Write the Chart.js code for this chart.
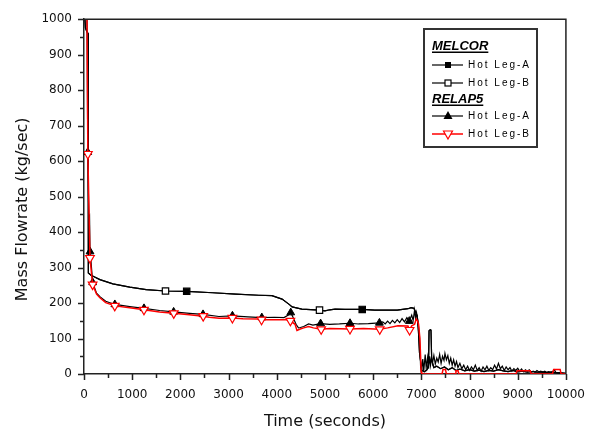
<!DOCTYPE html>
<html><head><meta charset="utf-8">
<script src="https://cdn.jsdelivr.net/npm/chart.js@4.4.0/dist/chart.umd.min.js"></script>
<style>html,body{margin:0;padding:0;background:#fff;}</style>
</head><body>
<canvas id="c" width="599" height="432"></canvas>
<script>
// ---- data (time s, mass flowrate kg/s) ----
const melcorA = [[0,1050],[30,975],[60,965],[85,960],[90,285],[150,278],[200,275],[330,266],[600,254],[950,245],[1290,238],[1691,234],[2131,233],[2670,229],[3150,225],[3630,222],[3900,221],[4110,211],[4250,197],[4320,189],[4520,183],[4887,180],[5000,178],[5100,181],[5210,183],[5416,182],[5773,182],[6034,180],[6500,180],[6722,184],[6790,187],[6845,185],[6875,176],[6914,164],[6940,120],[6962,60],[7010,10],[7060,6],[7120,12],[7150,30],[7160,122],[7185,125],[7200,124],[7215,40],[7260,18],[7320,22],[7400,15],[7480,20],[7560,12],[7640,18],[7720,10],[7800,14],[7900,9],[8000,12],[8100,8],[8200,11],[8300,7],[8400,10],[8500,8],[8600,12],[8700,9],[8800,7],[8900,10],[9000,6],[9100,8],[9200,5],[9300,7],[9400,5],[9500,6],[9600,4],[9700,5],[9800,4],[9900,3],[10000,2]];
const melcorB = [[0,1050],[30,975],[60,965],[85,960],[90,285],[150,278],[200,275],[330,266],[600,254],[950,245],[1290,238],[1691,234],[2131,233],[2670,229],[3150,225],[3630,222],[3900,221],[4110,211],[4250,197],[4320,189],[4520,183],[4887,180],[5000,178],[5100,181],[5210,183],[5416,182],[5773,182],[6034,180],[6500,180],[6722,184],[6790,187],[6845,185],[6875,176],[6914,164],[6940,120],[6962,60],[7010,10],[7060,6],[7120,12],[7150,30],[7160,122],[7185,125],[7200,124],[7215,40],[7260,18],[7320,22],[7400,15],[7480,20],[7560,12],[7640,18],[7720,10],[7800,14],[7900,9],[8000,12],[8100,8],[8200,11],[8300,7],[8400,10],[8500,8],[8600,12],[8700,9],[8800,7],[8900,10],[9000,6],[9100,8],[9200,5],[9300,7],[9400,5],[9500,6],[9600,4],[9700,5],[9800,4],[9900,3],[10000,2]];
const relapA = [[0,1100],[60,1050],[78,625],[100,440],[115,445],[125,345],[135,335],[180,258],[260,228],[330,218],[450,205],[640,196],[950,190],[1245,185],[1570,179],[1860,175],[2190,171],[2470,168],[2800,162],[3080,164],[3400,161],[3690,159],[3950,160],[4150,159],[4240,166],[4290,173],[4330,162],[4400,140],[4450,130],[4490,131],[4560,134],[4660,141],[4750,138],[4910,142],[5100,140],[5300,141],[5520,143],[5700,141],[5900,142],[6130,144],[6200,147],[6250,141],[6300,149],[6350,142],[6400,151],[6450,144],[6500,153],[6550,145],[6600,156],[6650,147],[6700,159],[6750,149],[6800,166],[6830,151],[6860,180],[6880,156],[6900,173],[6930,150],[6960,110],[6985,20],[7000,4],[7030,42],[7050,8],[7080,55],[7100,18],[7130,47],[7150,15],[7170,50],[7190,25],[7210,48],[7230,30],[7260,52],[7290,28],[7320,45],[7350,34],[7380,55],[7410,30],[7440,50],[7470,38],[7490,58],[7520,40],[7550,52],[7580,30],[7610,45],[7640,25],[7670,40],[7700,22],[7730,35],[7760,18],[7800,30],[7840,15],[7880,25],[7920,12],[7960,22],[8000,10],[8040,20],[8080,12],[8120,25],[8160,10],[8200,18],[8240,8],[8280,20],[8320,12],[8360,22],[8400,10],[8440,18],[8480,12],[8520,25],[8560,14],[8600,30],[8640,15],[8680,22],[8720,10],[8760,20],[8800,12],[8840,18],[8880,8],[8920,15],[8960,10],[9000,16],[9040,8],[9080,14],[9120,6],[9160,12],[9200,8],[9240,12],[9280,5],[9320,8],[9360,5],[9400,10],[9440,6],[9480,8],[9520,5],[9560,8],[9600,5],[9640,7],[9680,5],[9720,6],[9760,12],[9790,5],[9840,3],[9900,2],[10000,0]];
const relapB = [[0,1100],[60,1050],[80,620],[124,327],[179,252],[261,225],[330,215],[450,201],[639,192],[948,187],[1244,181],[1567,175],[1863,171],[2186,167],[2474,163],[2600,160],[2804,157],[3079,158],[3300,156],[3629,155],[3684,153],[4200,153],[4282,150],[4380,140],[4419,123],[4488,127],[4560,130],[4660,134],[4760,130],[4921,126],[5100,128],[5519,127],[5800,128],[6137,126],[6300,130],[6515,136],[6722,135],[6756,124],[6800,136],[6860,140],[6893,155],[6920,150],[6942,141],[6970,100],[6997,6],[7010,0],[7430,0],[7450,13],[7500,13],[7520,0],[7700,0],[7718,9],[7760,9],[7780,0],[8960,0],[8990,9],[9260,9],[9280,0],[9720,0],[9746,13],[9880,13],[9900,0],[10000,0]];

// marker times
const melcorAMarks = [2131, 5773];
const melcorBMarks = [1691, 4887];
const relapAMarks = [78, 125, 180, 640, 1245, 1860, 2470, 3080, 3690, 4290, 4910, 5520, 6130, 6750];
const relapBMarks = [80, 124, 179, 639, 1244, 1863, 2474, 3079, 3684, 4282, 4921, 5519, 6137, 6756];

// axis ticks
const xTickStep = 1000, yTickStep = 100;
const xMax = 10000, yMax = 1000;

const FONT = 'DejaVu Sans';
const toXY = arr => arr.map(p => ({x: p[0], y: p[1]}));
const markR = (marks, r) => c => (c.raw && marks.includes(c.raw.x)) ? r : 0;

const framePlugin = {
  id: 'frame',
  afterDraw(chart) {
    const {ctx, chartArea: a, scales: {x, y}} = chart;
    ctx.save();
    ctx.strokeStyle = '#222';
    ctx.lineWidth = 1.5;
    ctx.beginPath();
    ctx.moveTo(a.left, a.top); ctx.lineTo(a.right, a.top); ctx.lineTo(a.right, a.bottom);
    ctx.stroke();
    ctx.beginPath();
    for (let t = 0; t <= xMax; t += xTickStep / 2) {
      const px = Math.round(x.getPixelForValue(t)) + 0.5;
      const len = (t % xTickStep === 0) ? 6 : 4;
      ctx.moveTo(px, a.bottom); ctx.lineTo(px, a.bottom + len);
    }
    for (let v = 0; v <= yMax; v += yTickStep / 2) {
      const py = Math.round(y.getPixelForValue(v)) + 0.5;
      const len = (v % yTickStep === 0) ? 6 : 4;
      ctx.moveTo(a.left, py); ctx.lineTo(a.left - len, py);
    }
    ctx.stroke();
    ctx.restore();
  }
};

const legendPlugin = {
  id: 'customLegend',
  afterDraw(chart) {
    const ctx = chart.ctx;
    ctx.save();
    ctx.fillStyle = '#fff';
    ctx.fillRect(424, 29, 113, 118);
    ctx.strokeStyle = '#333';
    ctx.lineWidth = 2;
    ctx.strokeRect(424, 29, 113, 118);
    const heading = (txt, yb) => {
      ctx.font = 'italic bold 13px "Liberation Sans"';
      ctx.fillStyle = '#000';
      ctx.textAlign = 'left';
      ctx.textBaseline = 'alphabetic';
      ctx.fillText(txt, 432, yb);
      const w = ctx.measureText(txt).width;
      ctx.fillRect(432, yb + 1.5, w, 1.5);
    };
    const row = (yc, color, kind) => {
      ctx.strokeStyle = color;
      ctx.lineWidth = color === '#000' ? 1.2 : 1.5;
      ctx.beginPath(); ctx.moveTo(432, yc); ctx.lineTo(463, yc); ctx.stroke();
      const cx = 448;
      ctx.lineWidth = 1.2;
      if (kind === 'fsq') { ctx.fillStyle = '#000'; ctx.fillRect(cx - 3, yc - 3, 6, 6); }
      if (kind === 'osq') { ctx.fillStyle = '#fff'; ctx.fillRect(cx - 3, yc - 3, 6, 6); ctx.strokeRect(cx - 3, yc - 3, 6, 6); }
      if (kind === 'utri') { ctx.fillStyle = '#000'; ctx.beginPath(); ctx.moveTo(cx, yc - 5); ctx.lineTo(cx + 4.5, yc + 3); ctx.lineTo(cx - 4.5, yc + 3); ctx.closePath(); ctx.fill(); }
      if (kind === 'dtri') { ctx.fillStyle = '#fff'; ctx.beginPath(); ctx.moveTo(cx, yc + 5); ctx.lineTo(cx + 4.5, yc - 3); ctx.lineTo(cx - 4.5, yc - 3); ctx.closePath(); ctx.fill(); ctx.stroke(); }
      ctx.fillStyle = '#000';
      ctx.font = '10px "Liberation Sans"';
      ctx.letterSpacing = '2px';
      ctx.textBaseline = 'middle';
      ctx.fillText(kind === 'fsq' || kind === 'utri' ? 'Hot Leg-A' : 'Hot Leg-B', 468, yc + 0.5);
      ctx.letterSpacing = '0px';
    };
    heading('MELCOR', 50);
    row(65, '#000', 'fsq');
    row(83, '#000', 'osq');
    heading('RELAP5', 103);
    row(116, '#000', 'utri');
    row(134, '#ff0000', 'dtri');
    ctx.restore();
  }
};

new Chart(document.getElementById('c'), {
  type: 'line',
  data: {
    datasets: [
      { label: 'RELAP5 Hot Leg-B', data: toXY(relapB), order: 0, borderColor: '#ff0000', borderWidth: 1.5,
        pointStyle: 'triangle', rotation: 180, pointRadius: markR(relapBMarks, 5), pointBackgroundColor: '#fff',
        pointBorderColor: '#ff0000', pointBorderWidth: 1.2, tension: 0 },
      { label: 'RELAP5 Hot Leg-A', data: toXY(relapA), order: 1, borderColor: '#000', borderWidth: 1.2,
        pointStyle: 'triangle', pointRadius: markR(relapAMarks, 4.5), pointBackgroundColor: '#000',
        pointBorderColor: '#000', pointBorderWidth: 1, tension: 0 },
      { label: 'MELCOR Hot Leg-B', data: toXY(melcorB), order: 2, borderColor: '#000', borderWidth: 1.2,
        pointStyle: 'rect', pointRadius: markR(melcorBMarks, 4.5), pointBackgroundColor: '#fff',
        pointBorderColor: '#000', pointBorderWidth: 1.2, tension: 0 },
      { label: 'MELCOR Hot Leg-A', data: toXY(melcorA), order: 3, borderColor: '#000', borderWidth: 1.2,
        pointStyle: 'rect', pointRadius: markR(melcorAMarks, 4.5), pointBackgroundColor: '#000',
        pointBorderColor: '#000', pointBorderWidth: 1.2, tension: 0 }
    ]
  },
  options: {
    responsive: false,
    animation: false,
    events: [],
    layout: { padding: { left: 0, right: 30, top: 15, bottom: 0 } },
    plugins: { legend: { display: false }, tooltip: { enabled: false } },
    scales: {
      x: {
        type: 'linear', min: 0, max: xMax,
        ticks: { stepSize: xTickStep, padding: 14, color: '#111', font: { family: FONT, size: 12 }, maxRotation: 0, autoSkip: false,
                 callback: v => String(v) },
        grid: { display: false, drawTicks: false },
        border: { display: true, color: '#222', width: 1.5 },
        title: { display: true, text: 'Time (seconds)', color: '#111', font: { family: FONT, size: 16 }, padding: { top: 0, bottom: 1 } },
        afterFit: s => { s.height = 58; }
      },
      y: {
        type: 'linear', min: 0, max: yMax,
        ticks: { stepSize: yTickStep, padding: 12, color: '#111', font: { family: FONT, size: 12 },
                 callback: v => String(v) },
        grid: { display: false, drawTicks: false },
        border: { display: true, color: '#222', width: 1.5 },
        title: { display: true, text: 'Mass Flowrate (kg/sec)\u00A0\u00A0\u00A0\u00A0\u00A0', color: '#111', font: { family: FONT, size: 16 }, padding: { top: 13, bottom: 0 } },
        afterFit: s => { s.width = 84; }
      }
    }
  },
  plugins: [framePlugin, legendPlugin]
});
</script>
</body></html>
